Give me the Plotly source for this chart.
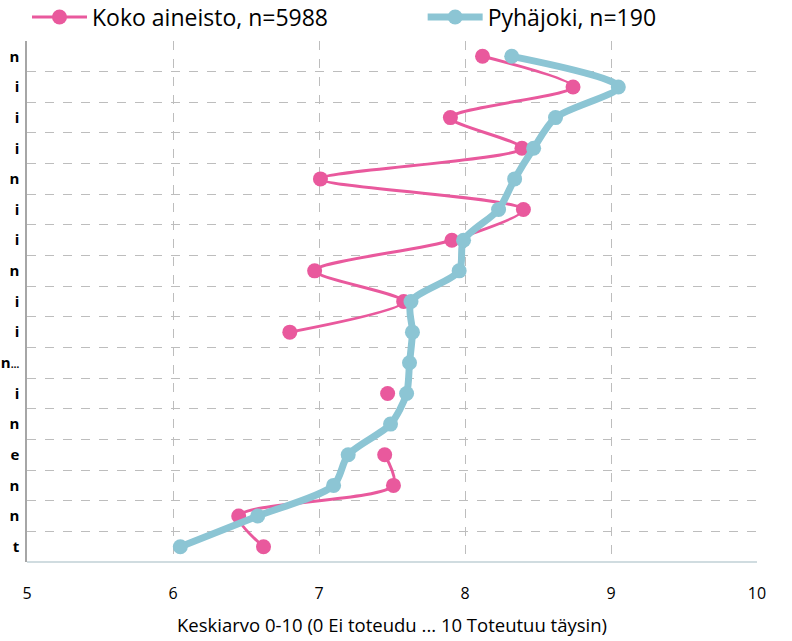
import plotly.graph_objects as go

categories = ["n", "i", "i", "i", "n", "i", "i", "n", "i", "i", "n…", "i", "n", "e", "n", "n", "t"]
koko = [8.12, 8.74, 7.90, 8.39, 7.01, 8.40, 7.91, 6.97, 7.58, 6.80, None, 7.47, None, 7.45, 7.51, 6.45, 6.62]
pyhajoki = [8.32, 9.05, 8.62, 8.47, 8.34, 8.23, 7.99, 7.96, 7.63, 7.64, 7.62, 7.60, 7.49, 7.20, 7.10, 6.58, 6.05]
x_ticks = [5, 6, 7, 8, 9, 10]

pos = list(range(1, len(categories) + 1))
FONT = "Open Sans"
PINK = "#E9599D"
BLUE = "#8CC5D4"

# narrow the ellipsis so the truncated label stays inside the page
tick_text = [c[:-1] + "<span style='font-size:10px'>…</span>" if c.endswith("…") else c
             for c in categories]

fig = go.Figure()
fig.add_trace(go.Scatter(
    x=koko, y=pos, name="Koko aineisto, n=5988", mode="lines+markers",
    line=dict(color=PINK, width=3, shape="spline", smoothing=0.8),
    marker=dict(color=PINK, size=15), connectgaps=False, legend="legend",
))
fig.add_trace(go.Scatter(
    x=pyhajoki, y=pos, name="Pyhäjoki, n=190", mode="lines+markers",
    line=dict(color=BLUE, width=7, shape="spline", smoothing=0.8),
    marker=dict(color=BLUE, size=15), legend="legend2",
))

leg_common = dict(orientation="h", xanchor="left", y=1.046, yanchor="middle",
                  font=dict(size=23, family=FONT, color="#000000"), itemwidth=55,
                  bgcolor="rgba(0,0,0,0)")

fig.update_layout(
    width=792, height=641,
    margin=dict(l=27, r=35, t=41, b=79, autoexpand=False),
    paper_bgcolor="white", plot_bgcolor="white",
    font=dict(family=FONT, color="#000000"),
    showlegend=True,
    legend=dict(x=0.0, **leg_common),
    legend2=dict(x=0.542, **leg_common),
    xaxis=dict(
        range=[5, 10], tickvals=x_ticks, ticktext=[str(v) for v in x_ticks],
        showgrid=True, gridcolor="#BDBDBD", griddash="dash", gridwidth=1,
        zeroline=False, showline=False, ticks="", automargin=False,
        ticklabelstandoff=20,
        tickfont=dict(size=16, family=FONT, color="#000000"),
        title=dict(text="Keskiarvo 0-10 (0 Ei toteudu ... 10 Toteutuu täysin)",
                   font=dict(size=18.5, family=FONT, color="#000000"), standoff=16),
    ),
    yaxis=dict(
        range=[len(categories) + 0.5, 0.5], automargin=False,
        tickmode="array", tickvals=pos, ticktext=tick_text,
        showgrid=False, zeroline=False,
        showline=True, linecolor="#A6A6A6", linewidth=1.5,
        ticks="", ticklabelstandoff=3,
        tickfont=dict(size=15, family=FONT, color="#000000", weight="bold"),
        minor=dict(tickmode="array", tickvals=[p - 0.5 for p in pos] + [len(pos) + 0.5],
                   showgrid=True, gridcolor="#BDBDBD", griddash="dash", gridwidth=1, ticks=""),
    ),
)
fig.add_shape(type="line", xref="paper", yref="paper", x0=0, x1=1, y0=0, y1=0,
              line=dict(color="#D0DCE0", width=2))

fig.write_html("out.html", config={"displayModeBar": False},
               post_script="document.body.style.margin='0';")
